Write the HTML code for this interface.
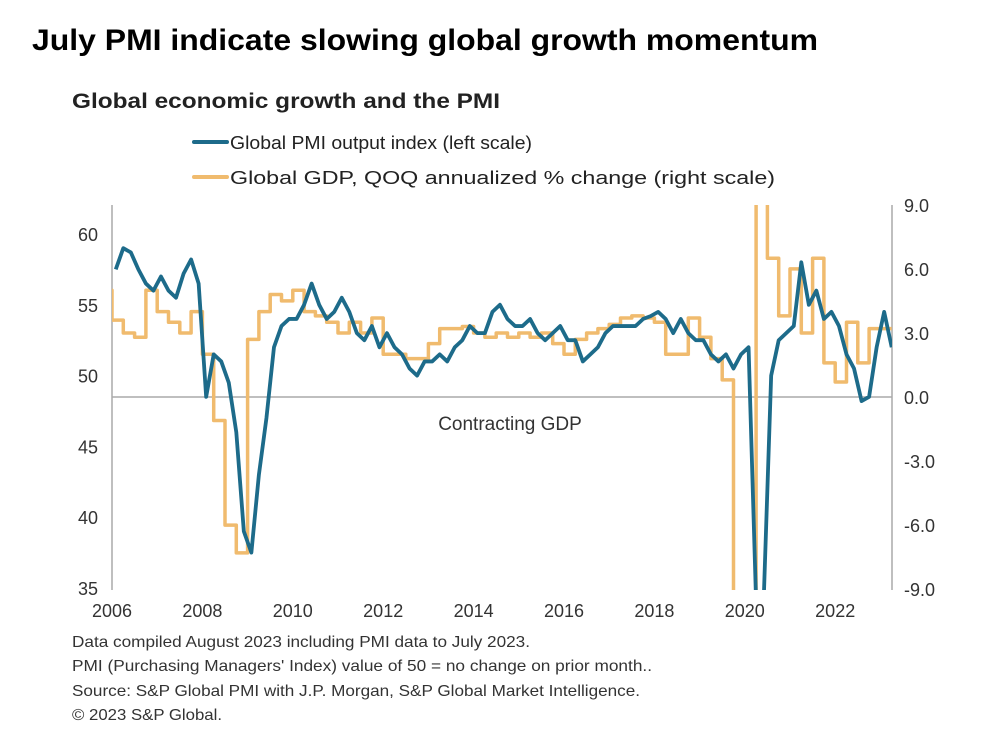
<!DOCTYPE html>
<html><head><meta charset="utf-8">
<style>
html,body{margin:0;background:#fff;width:1000px;height:742px;overflow:hidden;font-family:"Liberation Sans",sans-serif;}
svg{position:absolute;left:0;top:0;display:block;}
</style></head><body>
<svg id="chart" width="1000" height="742">
<text x="32" y="50" font-size="30" font-weight="bold" fill="#000" textLength="786" lengthAdjust="spacingAndGlyphs" font-family="Liberation Sans,sans-serif">July PMI indicate slowing global growth momentum</text>
<text x="72" y="108" font-size="21" font-weight="bold" fill="#222" textLength="428" lengthAdjust="spacingAndGlyphs" font-family="Liberation Sans,sans-serif">Global economic growth and the PMI</text>
<text x="72" y="647" font-size="16" fill="#333" textLength="458" lengthAdjust="spacingAndGlyphs" font-family="Liberation Sans,sans-serif">Data compiled August 2023 including PMI data to July 2023.</text>
<text x="72" y="671" font-size="16" fill="#333" textLength="580" lengthAdjust="spacingAndGlyphs" font-family="Liberation Sans,sans-serif">PMI (Purchasing Managers' Index) value of 50 = no change on prior month..</text>
<text x="72" y="696" font-size="16" fill="#333" textLength="568" lengthAdjust="spacingAndGlyphs" font-family="Liberation Sans,sans-serif">Source: S&amp;P Global PMI with J.P. Morgan, S&amp;P Global Market Intelligence.</text>
<text x="72" y="720" font-size="16" fill="#333" textLength="150" lengthAdjust="spacingAndGlyphs" font-family="Liberation Sans,sans-serif">© 2023 S&amp;P Global.</text>
</svg>
<script>
const leftTicks=[35,40,45,50,55,60];
const rightTicks=[-9,-6,-3,0,3,6,9];
const xTickYears=[2006,2008,2010,2012,2014,2016,2018,2020,2022];
// PMI, bimonthly values per year
const pmi=[
57.5,59,58.7,57.5,56.5,56,
57,56,55.5,57.2,58.2,56.5,
48.5,51.5,51,49.5,46,39,
37.5,43,47,52,53.5,54,
54,55,56.5,55,54,54.5,
55.5,54.5,53,52.5,53.5,52,
53,52,51.5,50.5,50,51,
51,51.5,51,52,52.5,53.5,
53,53,54.5,55,54,53.5,
53.5,54,53,52.5,53,53.5,
52.5,52.5,51,51.5,52,53,
53.5,53.5,53.5,53.5,54,54.2,
54.5,54,53,54,53,52.5,
52.5,51.5,51,51.5,50.5,51.5,
52,34,34,50,52.5,53,
53.5,58,55,56,54,54.5,
53.5,51.5,50.5,48.2,48.5,52,
54.5,52];
// GDP, quarterly annualized % change
const gdp=[
5.0,3.6,3.0,2.8,
5.0,4.0,3.5,3.0,
4.0,2.0,-1.1,-6.0,
-7.3,2.7,4.0,4.8,
4.5,5.0,4.0,3.8,
3.5,3.0,3.5,3.0,
3.7,2.0,2.0,1.8,
1.8,2.5,3.2,3.2,
3.3,3.0,2.8,3.0,
2.8,3.0,2.8,3.0,
2.5,2.0,2.7,3.0,
3.2,3.4,3.7,3.8,
3.7,3.5,2.0,2.0,
3.7,2.8,1.8,0.8,
-12,-30,30,6.5,
3.8,6.0,3.0,6.5,
1.6,0.7,3.5,1.6,
3.2,3.2];
const svg=document.getElementById('chart');
const NS='http://www.w3.org/2000/svg';
const X0=112,X1=892,YT=205,YB=590;
function xs(t){return X0+(t-2006)*45.2;}
function yl(v){return 234+(60-v)*14.16;}
function yr(v){return 397-v*21.35;}
function mk(tag,attrs){const e=document.createElementNS(NS,tag);for(const k in attrs)e.setAttribute(k,attrs[k]);svg.appendChild(e);return e;}
const defs=mk('defs',{});
const cp=document.createElementNS(NS,'clipPath');cp.setAttribute('id','clip');
const cr=document.createElementNS(NS,'rect');cr.setAttribute('x',X0);cr.setAttribute('y',YT);cr.setAttribute('width',X1-X0);cr.setAttribute('height',YB-YT);
cp.appendChild(cr);defs.appendChild(cp);
const FF='Liberation Sans,sans-serif';
let a=mk('line',{x1:X0,y1:YT,x2:X0,y2:YB,stroke:'#aaa','stroke-width':1.5});


a=mk('line',{x1:X1,y1:YT,x2:X1,y2:YB,stroke:'#aaa','stroke-width':1.5});


a=mk('line',{x1:X0,y1:yr(0),x2:X1,y2:yr(0),stroke:'#aaa','stroke-width':1.5});


leftTicks.forEach(v=>{const t=mk('text',{x:98,y:yl(v)+7,'text-anchor':'end','font-size':18,fill:'#333','font-family':FF});t.textContent=v;

});
rightTicks.forEach(v=>{const t=mk('text',{x:904,y:yr(v)+7,'font-size':18,fill:'#333','font-family':FF});t.textContent=v.toFixed(1);

});
xTickYears.forEach(v=>{const t=mk('text',{x:xs(v),y:617,'text-anchor':'middle','font-size':18,fill:'#333','font-family':FF});t.textContent=v;

});
let c=mk('text',{x:510,y:430,'text-anchor':'middle','font-size':19,fill:'#333','font-family':FF});c.textContent='Contracting GDP';


let d='';
gdp.forEach((v,i)=>{const t0=2006+(i-1)/4,t1=t0+0.25;const y=yr(v);d+=(i?'L':'M')+xs(t0)+','+y+'L'+xs(t1)+','+y;});
let g=mk('path',{d:d,fill:'none',stroke:'#f0bb6e','stroke-width':3.5,'clip-path':'url(#clip)','stroke-linejoin':'round'});


d='';
pmi.forEach((v,i)=>{const t=2006+i/6+1/12;d+=(i?'L':'M')+xs(t)+','+yl(v);});
let p=mk('path',{d:d,fill:'none',stroke:'#1d6b8a','stroke-width':3.8,'clip-path':'url(#clip)','stroke-linejoin':'round'});


let l1=mk('line',{x1:194,y1:142,x2:227,y2:142,stroke:'#1d6b8a','stroke-width':4,'stroke-linecap':'round'});


let t1=mk('text',{x:230,y:149,'font-size':18.5,fill:'#222','font-family':FF,textLength:302,lengthAdjust:'spacingAndGlyphs'});t1.textContent='Global PMI output index (left scale)';


let l2=mk('line',{x1:194,y1:177,x2:227,y2:177,stroke:'#f0bb6e','stroke-width':4,'stroke-linecap':'round'});


let t2=mk('text',{x:230,y:184,'font-size':18.5,fill:'#222','font-family':FF,textLength:545,lengthAdjust:'spacingAndGlyphs'});t2.textContent='Global GDP, QOQ annualized % change (right scale)';


</script>
</body></html>
